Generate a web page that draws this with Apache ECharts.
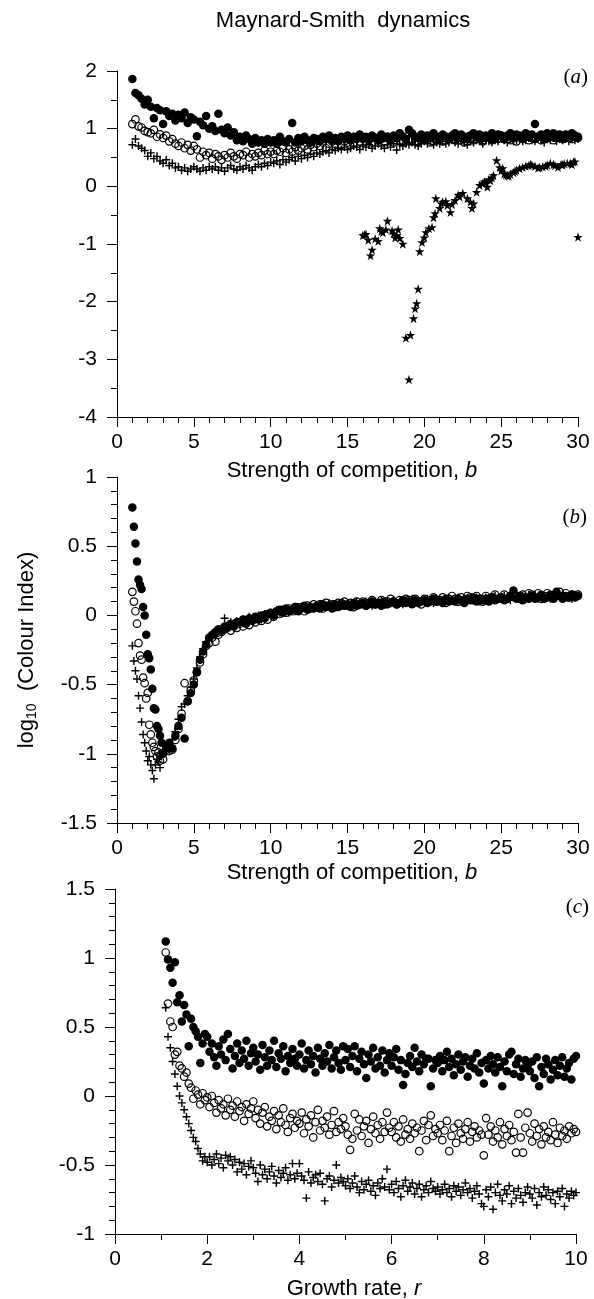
<!DOCTYPE html>
<html>
<head>
<meta charset="utf-8">
<script src="https://cdn.jsdelivr.net/npm/echarts@6/dist/echarts.min.js"></script>
<style>html,body{margin:0;padding:0;background:#fff}#c{width:594px;height:1299px}</style>
</head>
<body>
<div id="c"></div>
<script>
// ---------- Panel (a) and shared b-grid ----------
const bGridA = [1,1.2,1.4,1.6,1.8,2,2.2,2.4,2.6,2.8,3,3.2,3.4,3.6,3.8,4,4.2,4.4,4.6,4.8,5,5.2,5.4,5.6,5.8,6,6.2,6.4,6.6,6.8,7,7.2,7.4,7.6,7.8,8,8.2,8.4,8.6,8.8,9,9.2,9.4,9.6,9.8,10,10.2,10.4,10.6,10.8,11,11.2,11.4,11.6,11.8,12,12.2,12.4,12.6,12.8,13,13.2,13.4,13.6,13.8,14,14.2,14.4,14.6,14.8,15,15.2,15.4,15.6,15.8,16,16.2,16.4,16.6,16.8,17,17.2,17.4,17.6,17.8,18,18.2,18.4,18.6,18.8,19,19.2,19.4,19.6,19.8,20,20.2,20.4,20.6,20.8,21,21.2,21.4,21.6,21.8,22,22.2,22.4,22.6,22.8,23,23.2,23.4,23.6,23.8,24,24.2,24.4,24.6,24.8,25,25.2,25.4,25.6,25.8,26,26.2,26.4,26.6,26.8,27,27.2,27.4,27.6,27.8,28,28.2,28.4,28.6,28.8,29,29.2,29.4,29.6,29.8,30];

const aFilled = [1.86,1.62,1.58,1.52,1.42,1.50,
1.38,1.18,1.36,1.32,1.08, 1.30,1.22,1.26,1.14,1.24, 1.18,1.28,1.10,1.20,1.16, 0.87,1.12,1.06,1.22,1.00,
1.04,0.96,1.26,0.98,0.92, 1.02,0.88,0.94,0.80,0.86, 0.78,0.88,0.82,0.74,0.84, 0.76,0.80,0.74,0.82,0.76,
0.80,0.74,0.86,0.78,0.76, 0.82,1.10,0.76,0.84,0.78, 0.86,0.80,0.76,0.84,0.82, 0.78,0.86,0.82,0.88,0.80,
0.84,0.78,0.86,0.82,0.88, 0.80,0.86,0.84,0.90,0.82, 0.86,0.80,0.88,0.84,0.82, 0.90,0.84,0.86,0.80,0.88,
0.84,0.92,0.86,0.82,0.98, 0.92,0.86,0.84,0.90,0.82, 0.88,0.84,0.92,0.86,0.82, 0.90,0.86,0.84,0.88,0.92,
0.84,0.90,0.86,0.82,0.88, 0.92,0.86,0.90,0.84,0.88, 0.86,0.92,0.84,0.90,0.88, 0.82,0.88,0.92,0.86,0.90,
0.88,0.84,0.92,0.86,0.90, 1.08,0.86,0.90,0.84,0.92, 0.88,0.92,0.86,0.90,0.84, 0.90,0.86,0.92,0.88,0.86];

const aOpen = [1.08,1.16,1.04,1.02,0.96,0.94,
0.92,0.98,0.86,0.90,0.84, 0.88,0.78,0.82,0.74,0.70, 0.76,0.66,0.72,0.62,0.70, 0.64,0.50,0.60,0.54,0.58,
0.48,0.56,0.52,0.46,0.54, 0.50,0.58,0.52,0.48,0.56, 0.54,0.60,0.50,0.56,0.52, 0.58,0.54,0.62,0.56,0.60,
0.56,0.62,0.60,0.66,0.58, 0.64,0.60,0.68,0.62,0.66, 0.70,0.64,0.72,0.68,0.74, 0.70,0.76,0.66,0.74,0.78,
0.74,0.80,0.72,0.78,0.76, 0.80,0.74,0.82,0.78,0.84, 0.78,0.82,0.76,0.84,0.80, 0.82,0.78,0.86,0.80,0.76,
0.84,0.80,0.78,0.86,0.82, 0.80,0.84,0.78,0.82,0.86, 0.82,0.76,0.84,0.80,0.86, 0.78,0.84,0.82,0.86,0.80,
0.84,0.80,0.76,0.86,0.82, 0.80,0.86,0.82,0.78,0.84, 0.86,0.80,0.84,0.82,0.88, 0.82,0.86,0.80,0.84,0.78,
0.86,0.82,0.88,0.80,0.84, 0.82,0.86,0.80,0.88,0.84, 0.86,0.80,0.84,0.88,0.82, 0.84,0.88,0.82,0.86,0.84];

const aPlus = [0.72,0.82,0.70,0.66,0.62,0.52,
0.58,0.48,0.52,0.44,0.40, 0.46,0.36,0.40,0.32,0.34, 0.28,0.32,0.26,0.30,0.34, 0.30,0.26,0.32,0.28,0.34,
0.30,0.34,0.28,0.32,0.26, 0.32,0.36,0.30,0.28,0.34, 0.30,0.36,0.32,0.28,0.34, 0.38,0.34,0.40,0.36,0.42,
0.40,0.44,0.38,0.46,0.42, 0.46,0.50,0.44,0.52,0.48, 0.54,0.50,0.56,0.52,0.58, 0.56,0.60,0.62,0.58,0.64,
0.62,0.66,0.64,0.68,0.64, 0.66,0.70,0.68,0.64,0.70, 0.68,0.72,0.66,0.70,0.74, 0.70,0.66,0.72,0.68,0.74,
0.63,0.72,0.70,0.74,0.72, 0.76,0.72,0.70,0.74,0.78, 0.74,0.78,0.72,0.76,0.74, 0.78,0.74,0.76,0.80,0.76,
0.74,0.78,0.76,0.72,0.78, 0.76,0.80,0.78,0.74,0.80, 0.78,0.76,0.80,0.78,0.82, 0.80,0.76,0.82,0.78,0.80,
0.82,0.78,0.80,0.84,0.80, 0.78,0.82,0.80,0.76,0.82, 0.80,0.84,0.78,0.82,0.80, 0.82,0.78,0.84,0.80,0.82];

const starB = [16.0,16.1,16.2,16.35,16.5,16.6,16.8,17.0,17.1,17.2,17.3,17.5,17.6,17.9,18.0,18.1,18.2,18.3,18.4,18.6,
18.8,19.0,19.1,19.3,19.4,19.5,19.6,19.7,19.85,20.0,20.1,20.3,20.5,20.6,20.7,20.75,21.0,21.1,21.2,21.4,
21.5,21.7,21.8,22.0,22.2,22.3,22.5,22.8,23.0,23.1,23.2,23.4,23.6,23.8,23.9,24.0,24.1,24.2,24.3,24.4,
24.5,24.7,24.9,25.0,25.1,25.2,25.3,25.4,25.5,25.6,25.8,25.9,26.0,26.2,26.4,26.6,26.8,26.9,27.0,27.2,
27.4,27.5,27.7,27.9,28.0,28.2,28.4,28.5,28.7,28.9,29.0,29.1,29.3,29.5,29.6,29.7,29.8,30.0];
const starV = [-0.85,-0.84,-0.83,-0.93,-1.20,-1.10,-0.91,-0.95,-0.73,-0.78,-0.80,-0.75,-0.60,-0.77,-0.82,-0.89,-0.85,-0.75,-0.90,-1.00,
-2.63,-3.35,-2.58,-2.29,-2.12,-2.03,-1.78,-1.13,-0.97,-0.89,-0.80,-0.73,-0.71,-0.54,-0.47,-0.21,-0.38,-0.30,-0.27,-0.26,
-0.33,-0.45,-0.31,-0.24,-0.15,-0.18,-0.12,-0.21,-0.27,-0.38,-0.30,-0.10,0.02,0.05,0.08,0.06,-0.01,0.12,0.10,0.15,
0.19,0.45,0.33,0.27,0.31,0.22,0.20,0.19,0.18,0.21,0.24,0.26,0.28,0.31,0.33,0.35,0.36,0.38,0.37,0.35,
0.32,0.33,0.34,0.35,0.37,0.40,0.38,0.36,0.33,0.38,0.37,0.39,0.40,0.40,0.38,0.42,0.43,-0.88];

// ---------- Panel (b) ----------
const bGridB = [1,1.1,1.2,1.3,1.4,1.5,1.6,1.7,1.8,1.9,2,2.1,2.2,2.3,2.4,2.5,2.6,2.7,2.8,2.9,
3,3.2,3.4,3.6,3.8,4,4.2,4.4,4.6,4.8,5,5.2,5.4,5.6,5.8,6,6.2,6.4,6.6,6.8,7,7.2,7.4,7.6,7.8,8,8.2,8.4,8.6,8.8,9,9.2,9.4,9.6,9.8,10,10.2,10.4,10.6,10.8,11,11.2,11.4,11.6,11.8,12,12.2,12.4,12.6,12.8,13,13.2,13.4,13.6,13.8,14,14.2,14.4,14.6,14.8,15,15.2,15.4,15.6,15.8,16,16.2,16.4,16.6,16.8,17,17.2,17.4,17.6,17.8,18,18.2,18.4,18.6,18.8,19,19.2,19.4,19.6,19.8,20,20.2,20.4,20.6,20.8,21,21.2,21.4,21.6,21.8,22,22.2,22.4,22.6,22.8,23,23.2,23.4,23.6,23.8,24,24.2,24.4,24.6,24.8,25,25.2,25.4,25.6,25.8,26,26.2,26.4,26.6,26.8,27,27.2,27.4,27.6,27.8,28,28.2,28.4,28.6,28.8,29,29.2,29.4,29.6,29.8,30];

const bFilled = [0.78,0.64,0.52,0.39,0.26,0.22,0.19,0.06,0.00,-0.14,-0.28,-0.31,-0.39,-0.53,-0.67,-0.68,-0.80,-0.82,-0.87,-0.92,
-1.00,-0.96,-0.92,-0.96,-0.87, -0.80,-0.74,-0.89,-0.62,-0.56, -0.50,-0.41,-0.32,-0.26,-0.21, -0.16,-0.14,-0.12,-0.10,-0.11,
-0.08,-0.09,-0.06,-0.08,-0.05, -0.05,-0.03,-0.06,-0.02,-0.04, -0.01,-0.03,0.00,-0.02,0.01, 0.02,0.00,0.03,0.04,0.02,
0.05,0.03,0.04,0.06,0.03, 0.05,0.07,0.04,0.06,0.05, 0.07,0.05,0.08,0.06,0.07, 0.05,0.08,0.06,0.09,0.07,
0.08,0.06,0.09,0.07,0.08, 0.09,0.07,0.08,0.10,0.08, 0.09,0.07,0.10,0.08,0.09, 0.10,0.08,0.09,0.11,0.09,
0.10,0.08,0.11,0.09,0.10, 0.11,0.09,0.10,0.12,0.10, 0.11,0.09,0.12,0.10,0.11, 0.10,0.12,0.11,0.09,0.12,
0.11,0.13,0.10,0.12,0.11, 0.12,0.10,0.13,0.11,0.12, 0.13,0.11,0.12,0.14,0.18, 0.12,0.14,0.11,0.13,0.12,
0.14,0.12,0.13,0.15,0.12, 0.13,0.15,0.12,0.17,0.14, 0.12,0.14,0.13,0.15,0.13, 0.14];

const bOpen = [0.17,0.10,0.03,-0.06,-0.20,-0.29,-0.32,-0.45,-0.49,-0.60,-0.56,-0.79,-0.86,-0.92,-0.95,-0.98,-1.02,-0.99,-1.05,-1.00,
-1.04,-0.97,-0.98,-0.97,-0.90, -0.82,-0.71,-0.49,-0.62,-0.54, -0.47,-0.41,-0.34,-0.28,-0.22, -0.20,-0.16,-0.19,-0.14,-0.12,
-0.10,-0.08,-0.11,-0.07,-0.09, -0.06,-0.08,-0.04,-0.07,-0.03, -0.05,-0.02,-0.04,0.00,-0.03, 0.01,-0.01,0.03,0.01,0.04,
0.02,0.05,0.03,0.06,0.04, 0.06,0.03,0.07,0.05,0.08, 0.06,0.08,0.05,0.09,0.07, 0.08,0.06,0.09,0.07,0.10,
0.07,0.09,0.06,0.10,0.08, 0.10,0.07,0.09,0.11,0.08, 0.09,0.11,0.08,0.10,0.12, 0.10,0.08,0.11,0.09,0.12,
0.11,0.09,0.12,0.10,0.08, 0.12,0.10,0.11,0.13,0.10, 0.11,0.13,0.09,0.12,0.14, 0.12,0.10,0.13,0.11,0.14,
0.13,0.11,0.14,0.12,0.10, 0.14,0.12,0.13,0.15,0.12, 0.13,0.15,0.12,0.14,0.16, 0.14,0.12,0.15,0.13,0.16,
0.15,0.13,0.16,0.12,0.14, 0.16,0.14,0.13,0.15,0.17, 0.14,0.16,0.13,0.15,0.14, 0.15];

const bPlus = [-0.22,-0.33,-0.40,-0.46,-0.58,-0.67,-0.77,-0.86,-0.92,-0.98,-1.05,-1.02,-1.08,-1.12,-1.18,-1.08,-1.04,-1.06,-1.10,-1.02,
-0.99,-0.95,-0.97,-0.90,-0.84, -0.75,-0.66,-0.64,-0.58,-0.52, -0.46,-0.38,-0.30,-0.24,-0.19, -0.17,-0.13,-0.15,-0.10,-0.12,
-0.02,-0.08,-0.05,-0.09,-0.04, -0.06,-0.03,-0.05,-0.01,-0.04, -0.02,0.00,-0.03,0.01,-0.01, 0.02,0.00,0.04,0.02,0.03,
0.04,0.02,0.05,0.03,0.06, 0.04,0.06,0.05,0.07,0.05, 0.06,0.08,0.06,0.07,0.09, 0.07,0.08,0.06,0.09,0.08,
0.09,0.07,0.08,0.10,0.08, 0.08,0.10,0.09,0.07,0.10, 0.09,0.11,0.08,0.10,0.09, 0.11,0.09,0.10,0.08,0.11,
0.10,0.12,0.09,0.11,0.10, 0.10,0.12,0.11,0.09,0.12, 0.12,0.10,0.11,0.13,0.11, 0.11,0.13,0.10,0.12,0.11,
0.12,0.11,0.13,0.10,0.12, 0.13,0.11,0.12,0.14,0.12, 0.12,0.14,0.13,0.11,0.13, 0.13,0.12,0.14,0.12,0.15,
0.13,0.15,0.12,0.14,0.13, 0.14,0.12,0.15,0.13,0.14, 0.15,0.13,0.14,0.12,0.15, 0.14];

// ---------- Panel (c) ----------
const rGrid = [1.1,1.15,1.2,1.25,1.3,1.35,1.4,1.45,1.5,1.55,1.6,1.65,1.7,1.75,1.8,1.85,1.9,1.95,
2,2.05,2.1,2.15,2.2,2.25,2.3,2.35,2.4,2.45,2.5,2.55,2.6,2.65,2.7,2.75,2.8,2.85,2.9,2.95,
3,3.05,3.1,3.15,3.2,3.25,3.3,3.35,3.4,3.45,3.5,3.55,3.6,3.65,3.7,3.75,3.8,3.85,3.9,3.95,
4,4.05,4.1,4.15,4.2,4.25,4.3,4.35,4.4,4.45,4.5,4.55,4.6,4.65,4.7,4.75,4.8,4.85,4.9,4.95,
5,5.05,5.1,5.15,5.2,5.25,5.3,5.35,5.4,5.45,5.5,5.55,5.6,5.65,5.7,5.75,5.8,5.85,5.9,5.95,
6,6.05,6.1,6.15,6.2,6.25,6.3,6.35,6.4,6.45,6.5,6.55,6.6,6.65,6.7,6.75,6.8,6.85,6.9,6.95,
7,7.05,7.1,7.15,7.2,7.25,7.3,7.35,7.4,7.45,7.5,7.55,7.6,7.65,7.7,7.75,7.8,7.85,7.9,7.95,
8,8.05,8.1,8.15,8.2,8.25,8.3,8.35,8.4,8.45,8.5,8.55,8.6,8.65,8.7,8.75,8.8,8.85,8.9,8.95,
9,9.05,9.1,9.15,9.2,9.25,9.3,9.35,9.4,9.45,9.5,9.55,9.6,9.65,9.7,9.75,9.8,9.85,9.9,9.95,10];

const cFilled = [1.12,0.99,0.93,0.82,0.97,0.68,0.73,0.54,0.66,0.59,0.36,0.56,0.50,0.47,0.43,0.24,0.38,0.45,
0.43,0.32,0.38,0.28,0.22,0.36,0.30,0.41,0.26,0.45,0.34,0.20,0.29,0.38,0.24,0.33,0.27,0.40,0.22,0.31,
0.35,0.25,0.30,0.19,0.37,0.28,0.22,0.33,0.26,0.40,0.21,0.31,0.27,0.36,0.18,0.29,0.24,0.34,0.27,0.22,
0.30,0.38,0.20,0.26,0.33,0.23,0.29,0.17,0.35,0.27,0.22,0.31,0.25,0.37,0.20,0.28,0.33,0.24,0.19,0.36,
0.26,0.34,0.21,0.29,0.36,0.18,0.27,0.32,0.23,0.13,0.30,0.25,0.35,0.20,0.28,0.22,0.33,0.17,0.26,0.31,
0.22,0.28,0.34,0.19,0.26,0.08,0.16,0.24,0.29,0.21,0.35,0.25,0.18,0.30,0.23,0.27,0.27,0.07,0.20,0.26,
0.24,0.29,0.18,0.26,0.32,0.21,0.27,0.15,0.23,0.30,0.19,0.25,0.28,0.14,0.22,0.27,0.20,0.31,0.17,0.24,
0.09,0.26,0.20,0.29,0.23,0.17,0.28,0.21,0.07,0.25,0.18,0.30,0.32,0.16,0.23,0.27,0.14,0.20,0.26,0.22,
0.18,0.25,0.13,0.28,0.07,0.21,0.16,0.27,0.23,0.12,0.19,0.26,0.15,0.22,0.28,0.14,0.20,0.24,0.12,0.27,0.29];

const cOpen = [1.04,0.67,0.54,0.50,0.30,0.32,0.22,0.20,0.14,0.17,0.09,0.06,-0.02,0.04,0.01,-0.06,0.02,-0.03,
-0.01,-0.08,0.00,-0.05,-0.12,-0.03,-0.09,-0.06,-0.14,-0.02,-0.10,-0.07,-0.15,-0.04,-0.11,-0.08,-0.18,-0.06,-0.13,-0.09,
-0.04,-0.16,-0.10,-0.20,-0.12,-0.08,-0.22,-0.15,-0.18,-0.11,-0.24,-0.14,-0.19,-0.09,-0.21,-0.26,-0.16,-0.13,-0.23,-0.18,
-0.20,-0.12,-0.27,-0.17,-0.22,-0.14,-0.30,-0.19,-0.10,-0.25,-0.18,-0.23,-0.15,-0.28,-0.21,-0.11,-0.26,-0.19,-0.24,-0.16,
-0.22,-0.28,-0.39,-0.31,-0.13,-0.25,-0.17,-0.29,-0.22,-0.18,-0.34,-0.24,-0.15,-0.27,-0.21,-0.31,-0.19,-0.26,-0.12,-0.23,
-0.26,-0.19,-0.30,-0.22,-0.33,-0.17,-0.28,-0.24,-0.31,-0.20,-0.27,-0.23,-0.40,-0.25,-0.18,-0.32,-0.21,-0.14,-0.29,-0.24,
-0.27,-0.21,-0.32,-0.25,-0.18,-0.40,-0.29,-0.23,-0.34,-0.20,-0.27,-0.31,-0.24,-0.19,-0.33,-0.26,-0.22,-0.30,-0.25,-0.28,
-0.43,-0.16,-0.28,-0.22,-0.33,-0.25,-0.30,-0.19,-0.35,-0.24,-0.29,-0.21,-0.32,-0.26,-0.41,-0.13,-0.30,-0.41,-0.23,-0.12,
-0.27,-0.33,-0.20,-0.29,-0.24,-0.35,-0.22,-0.30,-0.26,-0.32,-0.19,-0.28,-0.34,-0.23,-0.29,-0.25,-0.31,-0.22,-0.27,-0.24,-0.26];

const cPlus = [0.64,0.43,0.35,0.25,0.16,0.07,0.00,-0.05,-0.10,-0.15,-0.20,-0.25,-0.30,-0.33,-0.38,-0.42,-0.47,-0.44,
-0.48,-0.44,-0.50,-0.46,-0.42,-0.49,-0.45,-0.52,-0.43,-0.47,-0.44,-0.50,-0.46,-0.55,-0.48,-0.53,-0.49,-0.57,-0.51,-0.47,
-0.52,-0.56,-0.62,-0.50,-0.57,-0.53,-0.60,-0.55,-0.51,-0.58,-0.63,-0.54,-0.59,-0.56,-0.52,-0.61,-0.57,-0.49,-0.60,-0.56,
-0.49,-0.58,-0.61,-0.74,-0.55,-0.63,-0.59,-0.57,-0.62,-0.56,-0.64,-0.76,-0.60,-0.58,-0.66,-0.61,-0.50,-0.63,-0.59,-0.62,
-0.65,-0.60,-0.67,-0.63,-0.58,-0.66,-0.70,-0.62,-0.68,-0.64,-0.61,-0.69,-0.65,-0.72,-0.63,-0.67,-0.60,-0.66,-0.53,-0.68,
-0.64,-0.70,-0.62,-0.67,-0.73,-0.65,-0.61,-0.69,-0.66,-0.63,-0.71,-0.67,-0.64,-0.73,-0.68,-0.65,-0.70,-0.62,-0.67,-0.69,
-0.66,-0.71,-0.68,-0.64,-0.70,-0.67,-0.73,-0.65,-0.69,-0.66,-0.72,-0.68,-0.63,-0.70,-0.67,-0.74,-0.69,-0.65,-0.71,-0.78,
-0.80,-0.68,-0.73,-0.66,-0.82,-0.70,-0.64,-0.72,-0.76,-0.68,-0.71,-0.65,-0.78,-0.69,-0.74,-0.67,-0.72,-0.77,-0.70,-0.66,
-0.71,-0.74,-0.67,-0.79,-0.70,-0.73,-0.66,-0.72,-0.68,-0.75,-0.70,-0.78,-0.69,-0.73,-0.67,-0.80,-0.71,-0.74,-0.69,-0.72,-0.70];

// ---------- helpers ----------
function pts(xs, ys) {
  const out = [];
  const n = Math.min(xs.length, ys.length);
  for (let i = 0; i < n; i++) out.push([xs[i], ys[i]]);
  return out;
}
const FONT = "'Liberation Sans', Arial, sans-serif";
const SERIF = "'Liberation Serif', 'Times New Roman', serif";
const PLUS = 'path://M0,4.1H4.1V0H5.9V4.1H10V5.9H5.9V10H4.1V5.9H0Z';
const STAR = 'path://M5,0L6.18,3.62L10,3.62L6.91,5.86L8.09,9.5L5,7.26L1.91,9.5L3.09,5.86L0,3.62L3.82,3.62Z';

function axisCommon(minorSplit, margin) {
  return {
    axisLine: { show: true, onZero: false, lineStyle: { color: '#000', width: 1 } },
    axisTick: { show: true, inside: false, length: 10, lineStyle: { color: '#000', width: 1 } },
    minorTick: { show: true, splitNumber: minorSplit, length: 6, lineStyle: { color: '#000', width: 1 } },
    splitLine: { show: false },
    minorSplitLine: { show: false },
    axisLabel: { color: '#000', fontSize: 21, fontFamily: FONT, margin: margin, showMinLabel: true, showMaxLabel: true, hideOverlap: false },
    name: ''
  };
}
function xAx(gi, max, interval, minorSplit) {
  return Object.assign({ type: 'value', gridIndex: gi, min: 0, max: max, interval: interval }, axisCommon(minorSplit, 15));
}
function yAx(gi, min, max, interval, minorSplit) {
  return Object.assign({ type: 'value', gridIndex: gi, min: min, max: max, interval: interval }, axisCommon(minorSplit, 20));
}
function sc(gi, data, kind) {
  const base = { type: 'scatter', xAxisIndex: gi, yAxisIndex: gi, data: data, silent: true, animation: false };
  if (kind === 'filled') return Object.assign(base, { symbol: 'circle', symbolSize: 8.5, itemStyle: { color: '#000', opacity: 1 } });
  if (kind === 'open') return Object.assign(base, { symbol: 'circle', symbolSize: 7.5, itemStyle: { color: 'rgba(0,0,0,0)', borderColor: '#000', borderWidth: 1.2, opacity: 1 } });
  if (kind === 'plus') return Object.assign(base, { symbol: PLUS, symbolSize: 8, itemStyle: { color: '#000', opacity: 1 } });
  return Object.assign(base, { symbol: STAR, symbolSize: 9.5, itemStyle: { color: '#000', opacity: 1 } });
}

const chart = echarts.init(document.getElementById('c'), null, { renderer: 'canvas' });
chart.setOption({
  backgroundColor: '#fff',
  animation: false,
  grid: [
    { left: 117, top: 71, width: 461, height: 346, outerBoundsMode: 'none', containLabel: false },
    { left: 117, top: 477, width: 461, height: 346, outerBoundsMode: 'none', containLabel: false },
    { left: 115, top: 889, width: 461, height: 345, outerBoundsMode: 'none', containLabel: false }
  ],
  xAxis: [xAx(0, 30, 5, 5), xAx(1, 30, 5, 5), xAx(2, 10, 2, 2)],
  yAxis: [yAx(0, -4, 2, 1, 2), yAx(1, -1.5, 1, 0.5, 5), yAx(2, -1, 1.5, 0.5, 5)],
  series: [
    sc(0, pts(bGridA, aFilled), 'filled'),
    sc(0, pts(bGridA, aOpen), 'open'),
    sc(0, pts(bGridA, aPlus), 'plus'),
    sc(0, pts(starB, starV), 'star'),
    sc(1, pts(bGridB, bFilled), 'filled'),
    sc(1, pts(bGridB, bOpen), 'open'),
    sc(1, pts(bGridB, bPlus), 'plus'),
    sc(2, pts(rGrid, cFilled), 'filled'),
    sc(2, pts(rGrid, cOpen), 'open'),
    sc(2, pts(rGrid, cPlus), 'plus')
  ],
  graphic: [
    { type: 'text', x: 343, y: 21, style: { text: 'Maynard-Smith  dynamics', font: '22px ' + FONT, fill: '#000', align: 'center', verticalAlign: 'middle' } },
    { type: 'text', x: 352, y: 471, style: { text: '{n|Strength of competition, }{i|b}', align: 'center', verticalAlign: 'middle',
        rich: { n: { fontFamily: FONT, fontSize: 22, fill: '#000' }, i: { fontFamily: FONT, fontSize: 22, fontStyle: 'italic', fill: '#000' } } } },
    { type: 'text', x: 352, y: 873, style: { text: '{n|Strength of competition, }{i|b}', align: 'center', verticalAlign: 'middle',
        rich: { n: { fontFamily: FONT, fontSize: 22, fill: '#000' }, i: { fontFamily: FONT, fontSize: 22, fontStyle: 'italic', fill: '#000' } } } },
    { type: 'text', x: 354, y: 1289, style: { text: '{n|Growth rate, }{i|r}', align: 'center', verticalAlign: 'middle',
        rich: { n: { fontFamily: FONT, fontSize: 22, fill: '#000' }, i: { fontFamily: FONT, fontSize: 22, fontStyle: 'italic', fill: '#000' } } } },
    { type: 'text', x: 27, y: 650, rotation: Math.PI / 2, style: { text: '{n|log}{s|10}{n|  (Colour Index)}', align: 'center', verticalAlign: 'middle',
        rich: { n: { fontFamily: FONT, fontSize: 22, fill: '#000' }, s: { fontFamily: FONT, fontSize: 14, fill: '#000', padding: [10, 0, 0, 0] } } } },
    { type: 'text', x: 588, y: 77, style: { text: '{p|(}{i|a}{p|)}', align: 'right', verticalAlign: 'middle',
        rich: { p: { fontFamily: SERIF, fontSize: 21, fill: '#000' }, i: { fontFamily: SERIF, fontSize: 21, fontStyle: 'italic', fill: '#000' } } } },
    { type: 'text', x: 587, y: 517, style: { text: '{p|(}{i|b}{p|)}', align: 'right', verticalAlign: 'middle',
        rich: { p: { fontFamily: SERIF, fontSize: 21, fill: '#000' }, i: { fontFamily: SERIF, fontSize: 21, fontStyle: 'italic', fill: '#000' } } } },
    { type: 'text', x: 589, y: 907, style: { text: '{p|(}{i|c}{p|)}', align: 'right', verticalAlign: 'middle',
        rich: { p: { fontFamily: SERIF, fontSize: 21, fill: '#000' }, i: { fontFamily: SERIF, fontSize: 21, fontStyle: 'italic', fill: '#000' } } } }
  ]
});
</script>
</body>
</html>
